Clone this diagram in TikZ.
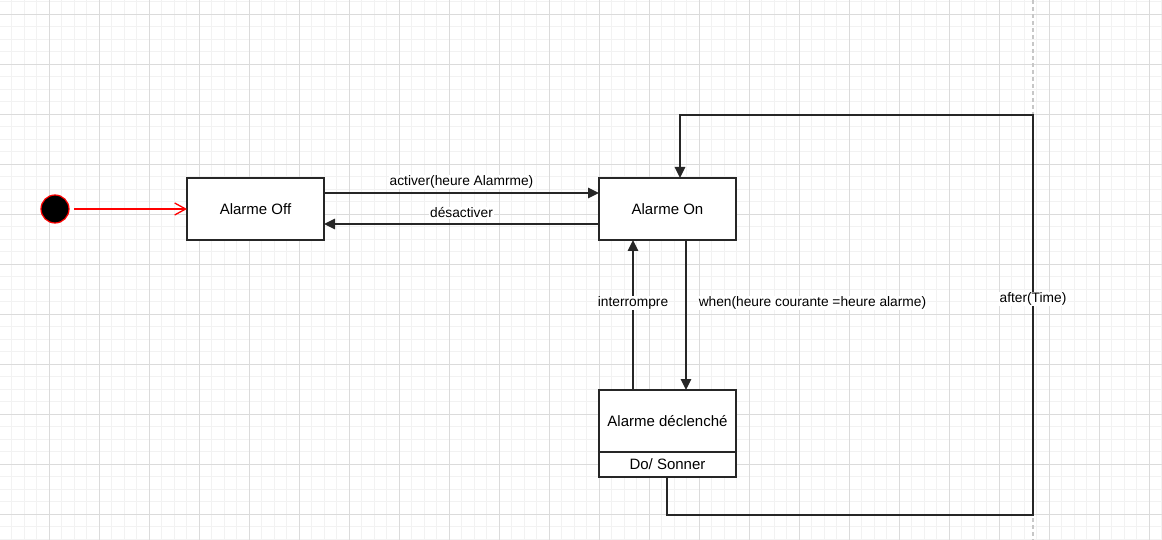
\documentclass[tikz,border=0pt]{standalone}
\usepackage{fontspec}
\setmainfont{Liberation Sans}
\usepackage{tikz}
\usetikzlibrary{positioning}
\usetikzlibrary{arrows.meta}

\begin{document}
\begin{tikzpicture}[
  x=1pt, y=-1pt,
  font=\fontsize{13.75}{16}\selectfont,
  gridMinor/.style={draw=black!5, line width=0.8pt},
  gridMajor/.style={draw=black!14, line width=1pt},
  % pageBreak/.style={draw=black!30, dashed},
  pageBreak/.style={draw=black!22, line width=1.2pt, dash pattern=on 4pt off 3pt},
]

\tikzset{
  stateBox/.style={
    draw=black!85, line width=1.5pt, fill=white,
    rectangle, minimum width=137pt, minimum height=62pt,
    inner sep=0pt, outer sep=0pt,
    font=\fontsize{15}{18}\selectfont
  },
  initDot/.style={
    circle, draw=red, fill=black, line width=1.2pt,
    minimum size=28pt, inner sep=0pt, outer sep=0pt
  },
  transArrow/.style={draw=black!85, line width=1.5pt, -{Triangle[length=11pt,width=10.5pt]}},
  initArrow/.style={draw=red, line width=1.3pt, -{Straight Barb[length=11pt,width=12pt]}, shorten <=5pt},
  transLabel/.style={fill=white, inner sep=1pt, text=black}
}

\useasboundingbox (0,0) rectangle (1162,540);
\fill[white] (0,0) rectangle (1162,540);

% --- Begin Grid ---
\foreach \gx in {-0.7,11.8,...,1170} {
  \draw[gridMinor] (\gx,0) -- (\gx,540);
}
\foreach \gy in {1.8,14.3,...,545} {
  \draw[gridMinor] (0,\gy) -- (1162,\gy);
}
\foreach \gx in {49.3,99.3,...,1162} {
  \draw[gridMajor] (\gx,0) -- (\gx,540);
}
\foreach \gy in {14.3,64.3,...,540} {
  \draw[gridMajor] (0,\gy) -- (1162,\gy);
}
\draw[pageBreak] (1033,0) -- (1033,540);

% --- Begin States ---
\node[initDot] (initNode) at (55,209) {};
\node[stateBox, right=118pt of initNode] (alarmOff) {Alarme Off};
\node[stateBox, right=275pt of alarmOff] (alarmOn) {Alarme On};
\node[stateBox, below=150pt of alarmOn] (alarmRing) {Alarme déclenché};
\node[stateBox, minimum height=25pt, below=0pt of alarmRing] (alarmRingDo) {Do/ Sonner};

\coordinate (loopBottom) at (1033,515);
\coordinate (loopTop) at (1033,115);

% --- Begin Transitions ---
\draw[initArrow] (initNode) -- (alarmOff);

\draw[transArrow] ([yshift=16pt]alarmOff.east) -- node[transLabel, yshift=11pt] {activer(heure Alamrme)} ([yshift=16pt]alarmOn.west);
\draw[transArrow] ([yshift=-15pt]alarmOn.west) -- node[transLabel, yshift=11pt] {désactiver} ([yshift=-15pt]alarmOff.east);

\draw[transArrow] ([xshift=-34.5pt]alarmRing.north) -- node[transLabel, pos=0.58] {interrompre} ([xshift=-34.5pt]alarmOn.south);
\draw[transArrow] ([xshift=18.5pt]alarmOn.south) -- node[transLabel, pos=0.42, anchor=west, xshift=11pt] {when(heure courante =heure alarme)} ([xshift=18.5pt]alarmRing.north);

\draw[transArrow] ([xshift=-0.5pt]alarmRingDo.south) |- (loopBottom) -- node[transLabel, pos=0.54] {after(Time)} (loopTop) -| ([xshift=12.5pt]alarmOn.north);

\end{tikzpicture}
\end{document}
